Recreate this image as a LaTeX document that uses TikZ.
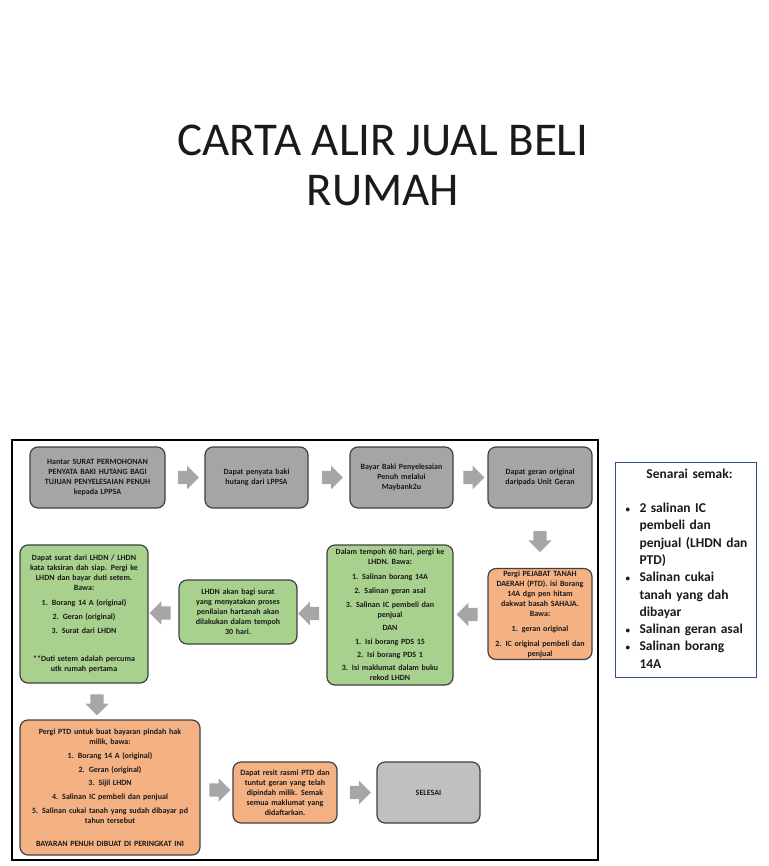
\documentclass[tikz,border=0pt]{standalone}
\usepackage{fontspec}
\setmainfont{Carlito}
\usetikzlibrary{shapes.arrows,calc}
\definecolor{StepGray}{HTML}{A5A5A5}
\definecolor{StepGrayLight}{HTML}{C0C0C0}
\definecolor{StepGreen}{HTML}{A9D18E}
\definecolor{StepOrange}{HTML}{F4B183}
\definecolor{ArrowGray}{HTML}{A6A6A6}
\definecolor{ListBlue}{HTML}{4472C4}
\definecolor{TextDark}{HTML}{1A1A1A}

\begin{document}
\begin{tikzpicture}[x=1pt,y=-1pt,
    flow/.style={rounded corners=8pt, line width=1.2pt, align=center,
      inner sep=2pt, text=TextDark,
      font=\fontsize{8}{10}\selectfont\bfseries},
    graybox/.style={flow, draw=black!75, fill=StepGray},
    greenbox/.style={flow, draw=black!75, fill=StepGreen},
    orangebox/.style={flow, draw=black!75, fill=StepOrange},
    blockarrow/.style={single arrow, draw=none, fill=ArrowGray,
      inner sep=6.5pt, minimum height=21pt,
      single arrow head extend=5pt}]
  \useasboundingbox (0,0) rectangle (768,866);

  % title
  \node[font=\fontsize{47}{50}\selectfont, text=TextDark, align=center]
    (title) at (383,165) {CARTA ALIR JUAL BELI\\RUMAH};

  \draw[line width=1.8pt] (12,440) rectangle (598,860);

  % row 1
  \node[graybox, minimum width=135pt, minimum height=61pt, text width=131pt]
    (b1) at (97.5,477.5)
    {Hantar SURAT PERMOHONAN\\ PENYATA BAKI HUTANG BAGI\\ TUJUAN PENYELESAIAN PENUH\\ kepada LPPSA};
  \node[graybox, minimum width=103pt, minimum height=61pt, text width=99pt]
    (b2) at (256.5,477.5) {Dapat penyata baki\\ hutang dari LPPSA};
  \node[graybox, minimum width=103pt, minimum height=61pt, text width=99pt]
    (b3) at (401.5,477.5) {Bayar Baki Penyelesaian\\ Penuh melalui\\ Maybank2u};
  \node[graybox, minimum width=104pt, minimum height=61pt, text width=100pt]
    (b4) at (540,477.5) {Dapat geran original\\ daripada Unit Geran};

  % row 2
  \node[orangebox, minimum width=104pt, minimum height=88pt, text width=100pt]
    (o1) at (540,614)
    {Pergi PEJABAT TANAH\\ DAERAH (PTD). isi Borang\\ 14A dgn pen hitam\\ dakwat basah SAHAJA.\\ Bawa:\\[5pt]
     1. geran original\\[5pt] 2. IC original pembeli dan\\ penjual};
  \node[greenbox, minimum width=126pt, minimum height=140pt, text width=122pt]
    (g1) at (390,615)
    {Dalam tempoh 60 hari, pergi ke\\ LHDN. Bawa:\\[5pt] 1. Salinan borang 14A\\[4pt]
     2. Salinan geran asal\\[4pt] 3. Salinan IC pembeli dan\\ penjual\\[3pt] DAN\\[4pt]
     1. Isi borang PDS 15\\[3pt] 2. Isi borang PDS 1\\[3pt] 3. Isi maklumat dalam buku\\ rekod LHDN};
  \node[greenbox, minimum width=118pt, minimum height=64pt, text width=114pt]
    (g2) at (238,612)
    {LHDN akan bagi surat\\ yang menyatakan proses\\ penilaian hartanah akan\\ dilakukan dalam tempoh\\ 30 hari.};
  \node[greenbox, minimum width=128pt, minimum height=138pt, text width=124pt]
    (g3) at (84,614)
    {Dapat surat dari LHDN / LHDN\\ kata taksiran dah siap. Pergi ke\\ LHDN dan bayar duti setem.\\ Bawa:\\[5pt]
     1. Borang 14 A (original)\\[4pt] 2. Geran (original)\\[4pt] 3. Surat dari LHDN\\[18pt]
     **Duti setem adalah percuma\\ utk rumah pertama};

  % row 3
  \node[orangebox, minimum width=180pt, minimum height=135pt, text width=176pt]
    (o2) at (110,787.5)
    {Pergi PTD untuk buat bayaran pindah hak\\ milik, bawa:\\[4pt] 1. Borang 14 A (original)\\[4pt]
     2. Geran (original)\\[3pt] 3. Sijil LHDN\\[4pt] 4. Salinan IC pembeli dan penjual\\[4pt]
     5. Salinan cukai tanah yang sudah dibayar pd\\ tahun tersebut\\[13pt]
     BAYARAN PENUH DIBUAT DI PERINGKAT INI};
  \node[orangebox, minimum width=104pt, minimum height=61pt, text width=100pt]
    (o3) at (285,792.5)
    {Dapat resit rasmi PTD dan\\ tuntut geran yang telah\\ dipindah milik. Semak\\ semua maklumat yang\\ didaftarkan.};
  \node[flow, draw=black!75, fill=StepGrayLight, minimum width=103pt, minimum height=61pt]
    (done) at (428.5,792.5) {SELESAI};

  % block arrows
  \foreach \a/\b/\rot [count=\i] in {b1.east/b2.west/0, b2.east/b3.west/0, b3.east/b4.west/0,
      b4.south/o1.north/270, o1.west/g1.east/180, g1.west/g2.east/180, g2.west/g3.east/180,
      g3.south/o2.north/270, o2.east/o3.west/0, o3.east/done.west/0}
    \node[blockarrow, shape border rotate=\rot] (arr\i) at ($(\a)!0.5!(\b)$) {};

  % checklist
  \node[draw=ListBlue!70!black, line width=0.8pt, minimum width=141pt, minimum height=215pt]
    (check) at (685.5,569.5) {};
  \node[text width=128pt, align=left, anchor=north, inner sep=0pt,
      font=\fontsize{13.5}{17.3}\selectfont\bfseries, text=TextDark]
    (checktext) at ($(check.north)+(4,7)$)
    {\hfill Senarai semak:\hfill\null\\[17pt]
     \makebox[14pt][l]{\fontsize{9}{9}\selectfont\textbullet}2 salinan IC\\ \hspace*{14pt}pembeli dan\\
     \hspace*{14pt}penjual (LHDN dan\\ \hspace*{14pt}PTD)\\
     \makebox[14pt][l]{\fontsize{9}{9}\selectfont\textbullet}Salinan cukai\\ \hspace*{14pt}tanah yang dah\\ \hspace*{14pt}dibayar\\
     \makebox[14pt][l]{\fontsize{9}{9}\selectfont\textbullet}Salinan geran asal\\
     \makebox[14pt][l]{\fontsize{9}{9}\selectfont\textbullet}Salinan borang\\ \hspace*{14pt}14A};
\end{tikzpicture}
\end{document}
